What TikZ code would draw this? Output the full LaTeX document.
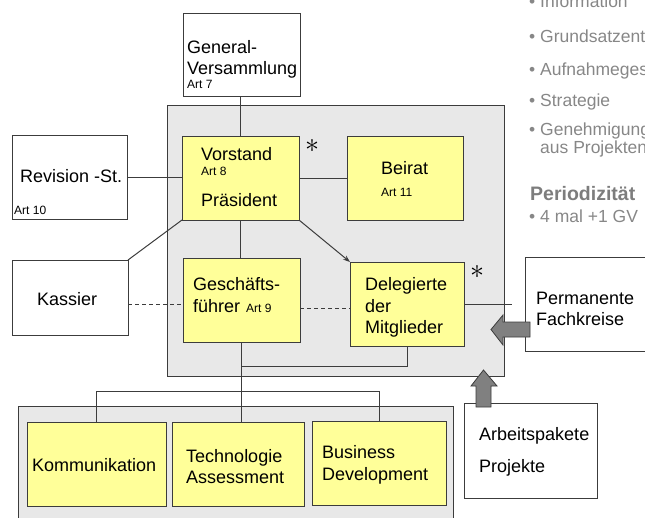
\documentclass[tikz,border=0pt]{standalone}
\usepackage{fontspec}
\setmainfont{Liberation Sans}
\usetikzlibrary{arrows.meta}
\definecolor{yel}{RGB}{255,255,153}
\definecolor{grayfill}{RGB}{232,232,232}
\definecolor{linec}{RGB}{60,60,60}
\definecolor{txtgray}{RGB}{135,135,135}
\definecolor{headgray}{RGB}{125,125,125}
\definecolor{arrowfill}{RGB}{128,128,128}
\begin{document}
\begin{tikzpicture}[x=1pt,y=-1pt,
 box/.style={draw=linec, line width=1pt, anchor=north west, inner sep=0pt, outer sep=0pt, fill=white},
 ybox/.style={box, fill=yel},
 gbox/.style={box, fill=grayfill},
 big/.style={font=\fontsize{18}{21}\selectfont, anchor=base west, inner sep=0pt},
 small/.style={font=\fontsize{12}{14}\selectfont, anchor=base west, inner sep=0pt},
 side/.style={font=\fontsize{17.5}{20}\selectfont, anchor=base west, inner sep=0pt, text=txtgray},
 conn/.style={draw=linec, line width=1pt},
 dconn/.style={conn, dash pattern=on 4pt off 3pt},
 fat/.style={fill=arrowfill, draw=linec, line width=0.8pt},
 astx/.style={scale=2.8, inner sep=0pt}
]
\useasboundingbox (0,0) rectangle (645,517);
\clip (0,0) rectangle (645,517);
% gray containers
\node[gbox, minimum width=337pt, minimum height=271pt] (main) at (167,105) {};
\node[gbox, minimum width=435pt, minimum height=125pt] (low) at (18,406) {};
% boxes
\node[box, minimum width=117pt, minimum height=83pt] (gv) at (183,13) {};
\node[ybox, minimum width=117pt, minimum height=84pt] (vor) at (182,136) {};
\node[ybox, minimum width=116pt, minimum height=84pt] (bei) at (347,136) {};
\node[box, minimum width=115pt, minimum height=84pt] (rev) at (12,135) {};
\node[box, minimum width=116pt, minimum height=75pt] (kas) at (12,260) {};
\node[ybox, minimum width=117pt, minimum height=84pt] (gf) at (183,258) {};
\node[ybox, minimum width=114pt, minimum height=84pt] (del) at (350,262) {};
\node[box, minimum width=140pt, minimum height=94pt] (perm) at (525,257) {};
\node[box, minimum width=133pt, minimum height=95pt] (arb) at (464,403) {};
\node[ybox, minimum width=139pt, minimum height=84pt] (kom) at (27,422) {};
\node[ybox, minimum width=132pt, minimum height=84pt] (tech) at (172,422) {};
\node[ybox, minimum width=134pt, minimum height=84pt] (bus) at (312,421) {};
% connectors
\coordinate (dend) at (512,305);
\coordinate (gfw) at ([yshift=-4pt]gf.west);
\coordinate (gfe) at ([yshift=-8pt]gf.east);
\draw[conn] (gv.south -| vor.north) -- (vor.north);
\draw[conn] (vor.east) -- (bei.west);
\draw[conn] (rev.east) -- (rev.east -| vor.west);
\draw[conn] (kas.north east) -- (vor.south west);
\draw[dconn] (gfw -| kas.east) -- (gfw);
\draw[dconn] (gfe) -- (gfe -| del.west);
\draw[conn, -{Stealth[length=7pt,width=5pt]}] (vor.south east) -- (del.north west);
\draw[conn] (vor.south) -- (vor.south |- gf.north);
\draw[conn] (gf.south) -- ++(0,24) -| (del.south);
\draw[conn] (gf.south) -- (gf.south |- tech.north);
\draw[conn] (kom.north) -- ++(0,-31) -| (bus.north);
\draw[conn] (del.east) -- (del.east -| dend);
% fat arrows
\draw[fat] (530,322) -- (503,322) -- (503,315) -- (491,329.5) -- (503,345) -- (503,337) -- (530,337) -- cycle;
\draw[fat] (476,407) -- (476,386) -- (471,386) -- (483.5,370) -- (497,386) -- (491,386) -- (491,407) -- cycle;
% texts
\node[big] (gvt1) at (187,53) {General-};
\node[big] (gvt2) at (187,74) {Versammlung};
\node[small] (gvt3) at (187,88) {Art 7};
\node[big] (vt1) at (201,160) {Vorstand};
\node[small] (vt2) at (201,175) {Art 8};
\node[big] (vt3) at (201,206) {Präsident};
\node[big] (bt1) at (381,174) {Beirat};
\node[small] (bt2) at (381,196) {Art 11};
\node[big] (rt1) at (20,182) {Revision -St.};
\node[small] (rt2) at (14,214) {Art 10};
\node[big] (kt) at (37,305) {Kassier};
\node[big] (gt1) at (193,290) {Geschäfts-};
\node[big] (gt2) at (193,312) {führer};
\node[small] (gt3) at (246,312) {Art 9};
\node[big] (dt1) at (365,290) {Delegierte};
\node[big] (dt2) at (365,312) {der};
\node[big] (dt3) at (365,333) {Mitglieder};
\node[big] (pt1) at (536,304) {Permanente};
\node[big] (pt2) at (536,325) {Fachkreise};
\node[big] (at1) at (479,440) {Arbeitspakete};
\node[big] (at2) at (479,472) {Projekte};
\node[big] (kot) at (32,471) {Kommunikation};
\node[big] (tt1) at (186,462) {Technologie};
\node[big] (tt2) at (186,483) {Assessment};
\node[big] (bst1) at (322,458) {Business};
\node[big] (bst2) at (322,480) {Development};
\node[astx] (ast1) at (312,146) {$\ast$};
\node[astx] (ast2) at (477,272) {$\ast$};
% side list
\node[side] (s1) at (529,7) {• Information};
\node[side] (s2) at (529,42) {• Grundsatzentscheide};
\node[side] (s3) at (529,75) {• Aufnahmegesuche};
\node[side] (s4) at (529,106) {• Strategie};
\node[side] (s5) at (529,135) {• Genehmigung};
\node[side] (s6) at (540,153) {aus Projekten};
\node[side, font=\bfseries\fontsize{19.5}{22}\selectfont, text=headgray] (s7) at (530,200) {Periodizität};
\node[side] (s8) at (529,222) {• 4 mal +1 GV};
\end{tikzpicture}
\end{document}
